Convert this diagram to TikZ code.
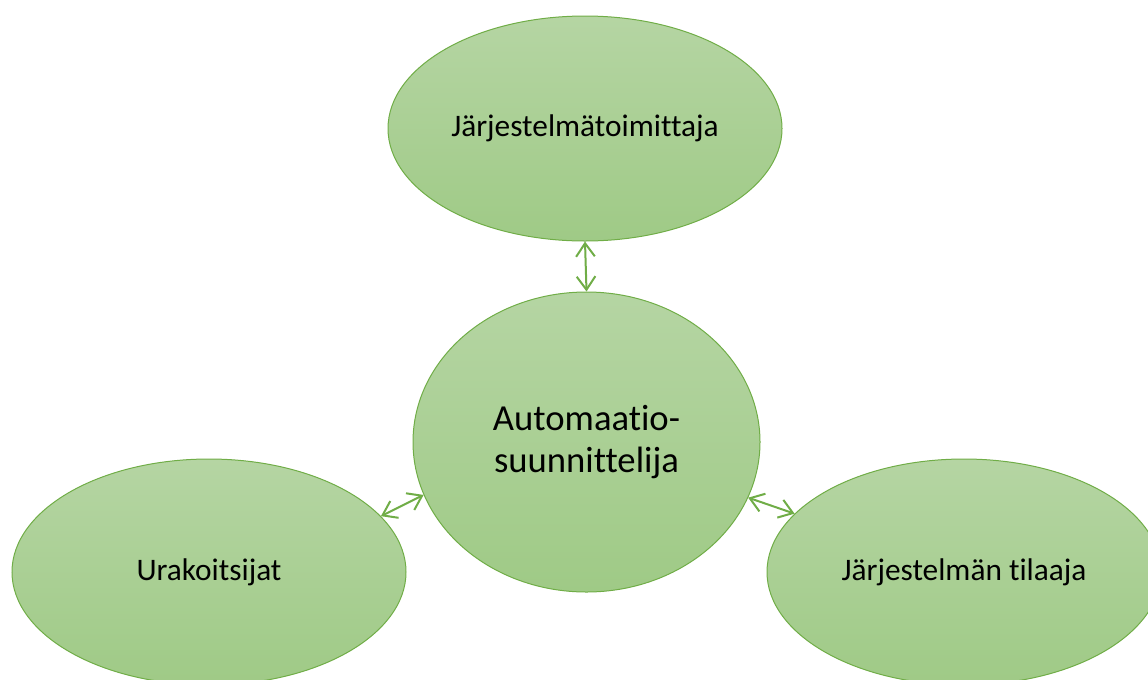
\documentclass[tikz,border=0pt]{standalone}
\usepackage{fontspec}
\setmainfont{Carlito}[Ligatures={NoCommon,NoRequired,NoContextual}]
\usetikzlibrary{shapes.geometric,arrows.meta}
\definecolor{edgegreen}{HTML}{70AD47}
\definecolor{topgreen}{HTML}{B5D5A3}
\definecolor{botgreen}{HTML}{9FCA86}
\tikzset{
  bubble/.style={ellipse, draw=edgegreen, line width=0.75pt, top color=topgreen, bottom color=botgreen, inner sep=0pt, text=black, align=center},
  smalltext/.style={font=\fontsize{23.5}{28}\selectfont},
  bigtext/.style={font=\fontsize{27.5}{31.5}\selectfont},
  link/.style={draw=edgegreen, line width=1.5pt, {Straight Barb[length=10pt,width=14pt]}-{Straight Barb[length=10pt,width=14pt]}}
}
\begin{document}
\begin{tikzpicture}[x=0.75pt,y=-0.75pt]
\useasboundingbox (0,0) rectangle (1148,679);
\clip (0,0) rectangle (1148,679);
\node[bubble, smalltext, minimum width=295.5pt, minimum height=168.75pt] (top) at (585,128.5) {Järjestelmätoimittaja};
\node[bubble, bigtext, minimum width=260.25pt, minimum height=225pt] (mid) at (586.5,442) {Automaatio-\\suunnittelija};
\node[bubble, smalltext, minimum width=295.5pt, minimum height=169.5pt] (left) at (209,572) {Urakoitsijat};
\node[bubble, smalltext, minimum width=295.5pt, minimum height=169.5pt] (right) at (964,572) {Järjestelmän tilaaja};
\draw[link] (top.south) -- (mid.north);
\draw[link] (left.18.6) -- (mid.198.8);
\draw[link] (mid.341.8) -- (right.161.4);
\end{tikzpicture}
\end{document}
